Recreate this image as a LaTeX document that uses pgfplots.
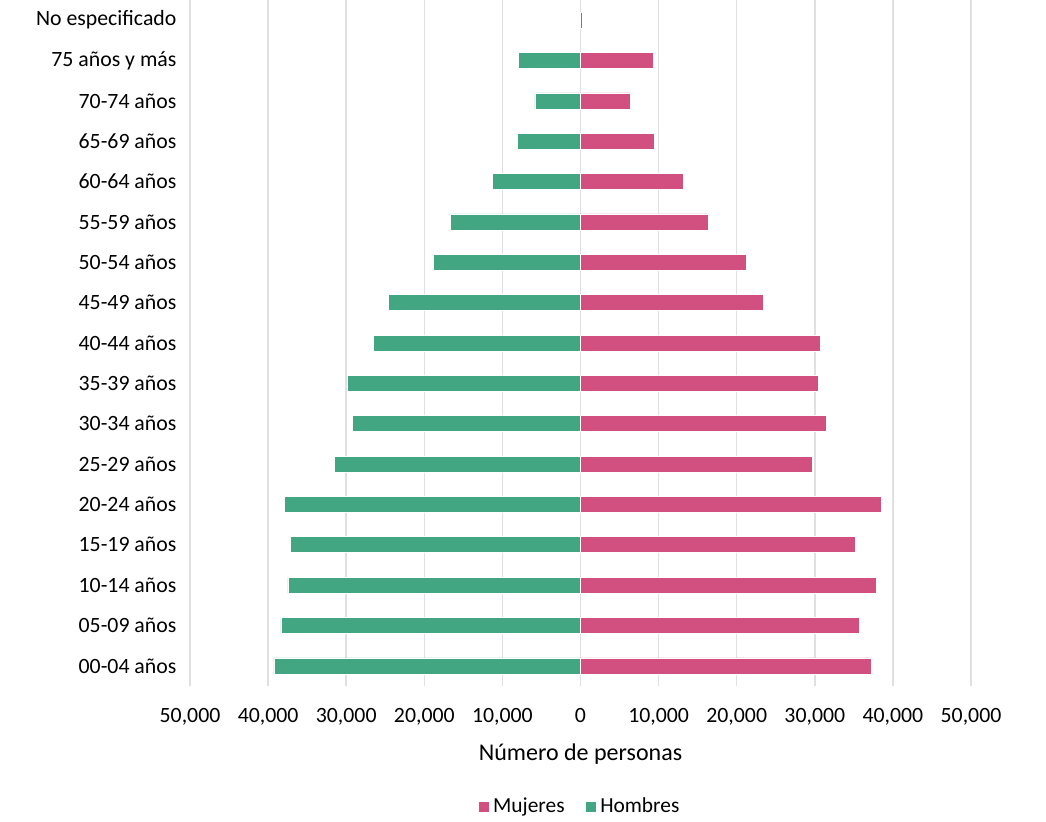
\documentclass[border=0pt]{standalone}
\usepackage{fontspec}
\setmainfont{Carlito}
\usepackage{pgfplots}
\pgfplotsset{compat=1.18}
\definecolor{hom}{RGB}{67,166,130}
\definecolor{muj}{RGB}{209,80,127}
\definecolor{gridgray}{RGB}{224,224,224}

\begin{document}
\begin{tikzpicture}
\useasboundingbox (0,0) rectangle (523pt,410.5pt);
\begin{axis}[
    at={(95pt,67.5pt)}, anchor=south west,
    scale only axis, width=390.5pt, height=343pt,
    xbar, bar shift=0pt, bar width=8pt,
    xmin=-50000, xmax=50000,
    ymin=-0.5, ymax=16.5,
    scaled x ticks=false,
    xtick={-50000,-40000,-30000,-20000,-10000,0,10000,20000,30000,40000,50000},
    xticklabels={50{,}000,40{,}000,30{,}000,20{,}000,10{,}000,0,10{,}000,20{,}000,30{,}000,40{,}000,50{,}000},
    ytick={0,1,2,3,4,5,6,7,8,9,10,11,12,13,14,15,16},
    yticklabels={00-04 años,05-09 años,10-14 años,15-19 años,20-24 años,25-29 años,30-34 años,35-39 años,40-44 años,45-49 años,50-54 años,55-59 años,60-64 años,65-69 años,70-74 años,75 años y más,No especificado},
    ticklabel style={font=\fontsize{10.9}{13}\selectfont},
    xticklabel style={yshift=-7.5pt},
    yticklabel style={xshift=1pt},
    xmajorgrids, ymajorgrids=false,
    grid style={gridgray, line width=0.75pt},
    axis line style={draw=none},
    tick style={draw=none},
    xlabel={Número de personas},
    xlabel style={font=\fontsize{12}{14}\selectfont, yshift=-2.5pt},
    legend style={at={(0.5,0)}, anchor=center, yshift=-60.5pt, draw=none,
        legend columns=2, font=\fontsize{10.7}{12}\selectfont,
        /tikz/every even column/.append style={column sep=8pt}},
    legend cell align=left,
    legend image code/.code={\fill[#1] (0pt,-2.75pt) rectangle (5.5pt,2.75pt);},
]
% Mujeres
\addplot[fill=muj, draw=white, line width=0.3pt] coordinates {
    (37260,0) (35650,1) (37900,2) (35220,3) (38470,4) (29720,5)
    (31510,6) (30450,7) (30740,8) (23410,9) (21200,10) (16420,11)
    (13100,12) (9390,13) (6400,14) (9260,15) (170,16)
};
\addlegendentry{Mujeres}
% Hombres
\addplot[fill=hom, draw=white, line width=0.3pt] coordinates {
    (-39250,0) (-38350,1) (-37460,2) (-37160,3) (-37930,4) (-31480,5)
    (-29230,6) (-29820,7) (-26550,8) (-24630,9) (-18790,10) (-16700,11)
    (-11330,12) (-8080,13) (-5830,14) (-7920,15) (-30,16)
};
\addlegendentry{Hombres}
\end{axis}
\end{tikzpicture}
\end{document}
